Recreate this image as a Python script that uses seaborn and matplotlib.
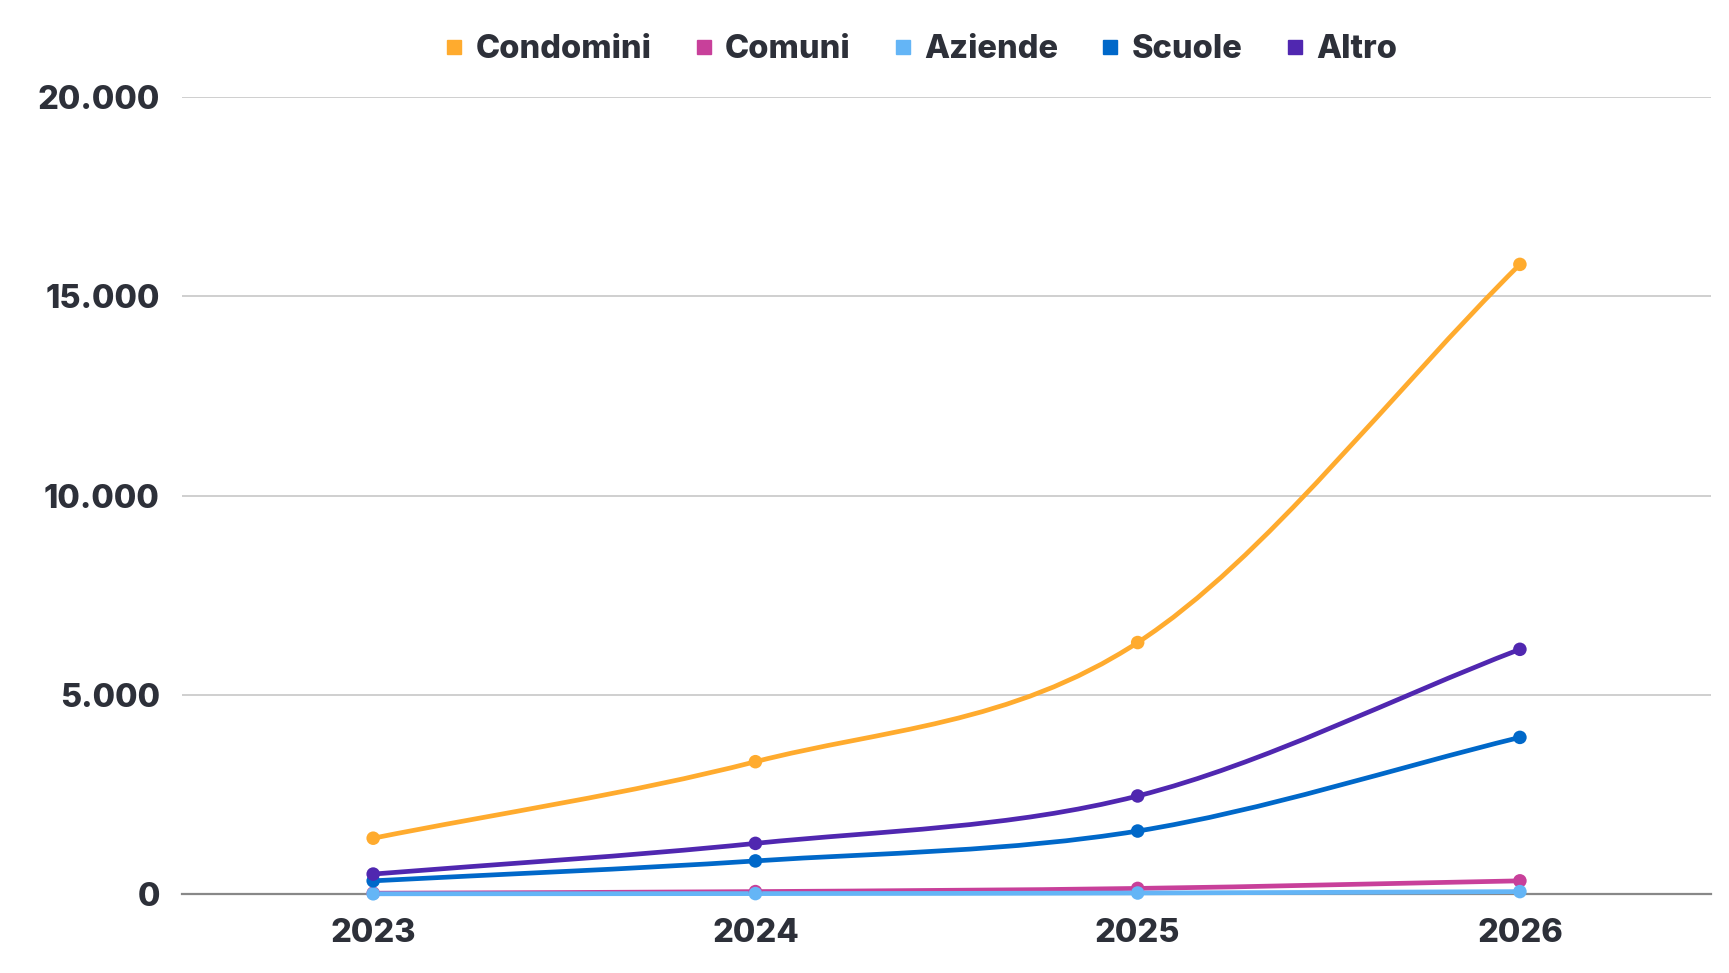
import numpy as np
import pandas as pd
import matplotlib
matplotlib.use('Agg')
import matplotlib.pyplot as plt
from matplotlib.path import Path
from matplotlib.patches import PathPatch
from matplotlib.lines import Line2D
from matplotlib.ticker import FuncFormatter
import seaborn as sns

# dati
anni = ['2023', '2024', '2025', '2026']
condomini = [1400, 3320, 6310, 15800]
comuni = [20, 60, 140, 330]
aziende = [5, 10, 25, 60]
scuole = [330, 830, 1580, 3930]
altro = [500, 1270, 2460, 6140]

serie = ['Condomini', 'Comuni', 'Aziende', 'Scuole', 'Altro']
colori = ['#ffab2e', '#c8409a', '#64b5f6', '#0068c9', '#5027b0']

df = pd.DataFrame({'anno': anni * 5,
                   'serie': np.repeat(serie, 4),
                   'valore': condomini + comuni + aziende + scuole + altro})
df['x'] = df['anno'].map({a: i for i, a in enumerate(anni)})

sns.set_style('white')
plt.rcParams['font.family'] = ['Inter', 'DejaVu Sans']
testo = '#2d3039'
fs = 23.5
peso = 800

fig = plt.figure(figsize=(17.29, 9.73), dpi=100)
ax = fig.add_axes([0.1053, 0.0812, 0.8843, 0.8191])


def curva(xs, ys):
    # curva morbida (catmull-rom) come path di Bezier
    xs = np.asarray(xs, float)
    ys = np.asarray(ys, float)
    d = np.diff(ys) / np.diff(xs)
    m = np.zeros(len(xs))
    m[0], m[-1] = d[0], d[-1]
    for i in range(1, len(xs) - 1):
        m[i] = (ys[i + 1] - ys[i - 1]) / (xs[i + 1] - xs[i - 1])
    verts = [(xs[0], ys[0])]
    codes = [Path.MOVETO]
    for i in range(len(xs) - 1):
        h = (xs[i + 1] - xs[i]) / 3
        verts += [(xs[i] + h, ys[i] + m[i] * h),
                  (xs[i + 1] - h, ys[i + 1] - m[i + 1] * h),
                  (xs[i + 1], ys[i + 1])]
        codes += [Path.CURVE4] * 3
    return Path(verts, codes)


for nome, col in zip(serie, colori):
    sub = df[df['serie'] == nome]
    ax.add_patch(PathPatch(curva(sub['x'], sub['valore']), fill=False,
                           edgecolor=col, lw=3.4, capstyle='round',
                           zorder=3, clip_on=False))
    sns.scatterplot(x='x', y='valore', data=sub, color=col, s=95,
                    edgecolor='none', ax=ax, zorder=4, legend=False,
                    clip_on=False)

ax.set_xlim(-0.5, 3.5)
ax.set_ylim(0, 20000)
ax.set_xticks(range(4))
ax.set_xticklabels(anni)
ax.set_yticks([0, 5000, 10000, 15000, 20000])
ax.yaxis.set_major_formatter(FuncFormatter(lambda v, p: f'{int(v):,}'.replace(',', '.')))
ax.grid(axis='y', color='#cccccc', lw=1.3)
ax.set_axisbelow(True)
for s in ['top', 'right', 'left']:
    ax.spines[s].set_visible(False)
ax.spines['bottom'].set_color('#888888')
ax.spines['bottom'].set_linewidth(1.6)
ax.spines['bottom'].set_zorder(2)
ax.tick_params(axis='both', length=0, labelsize=fs, labelcolor=testo)
ax.tick_params(axis='x', pad=17)
ax.tick_params(axis='y', pad=16)
for lab in ax.get_xticklabels() + ax.get_yticklabels():
    lab.set_fontweight(peso)
ax.set_xlabel('')
ax.set_ylabel('')

handles = [Line2D([], [], marker='s', ls='', color=c, markersize=10) for c in colori]
leg = fig.legend(handles, serie, loc='center', bbox_to_anchor=(0.532, 0.949), ncol=5,
                 frameon=False, handletextpad=0.3, columnspacing=1.25,
                 handlelength=0.7, prop={'size': fs, 'weight': peso})
for t in leg.get_texts():
    t.set_color(testo)

fig.savefig('out.png', dpi=100)
